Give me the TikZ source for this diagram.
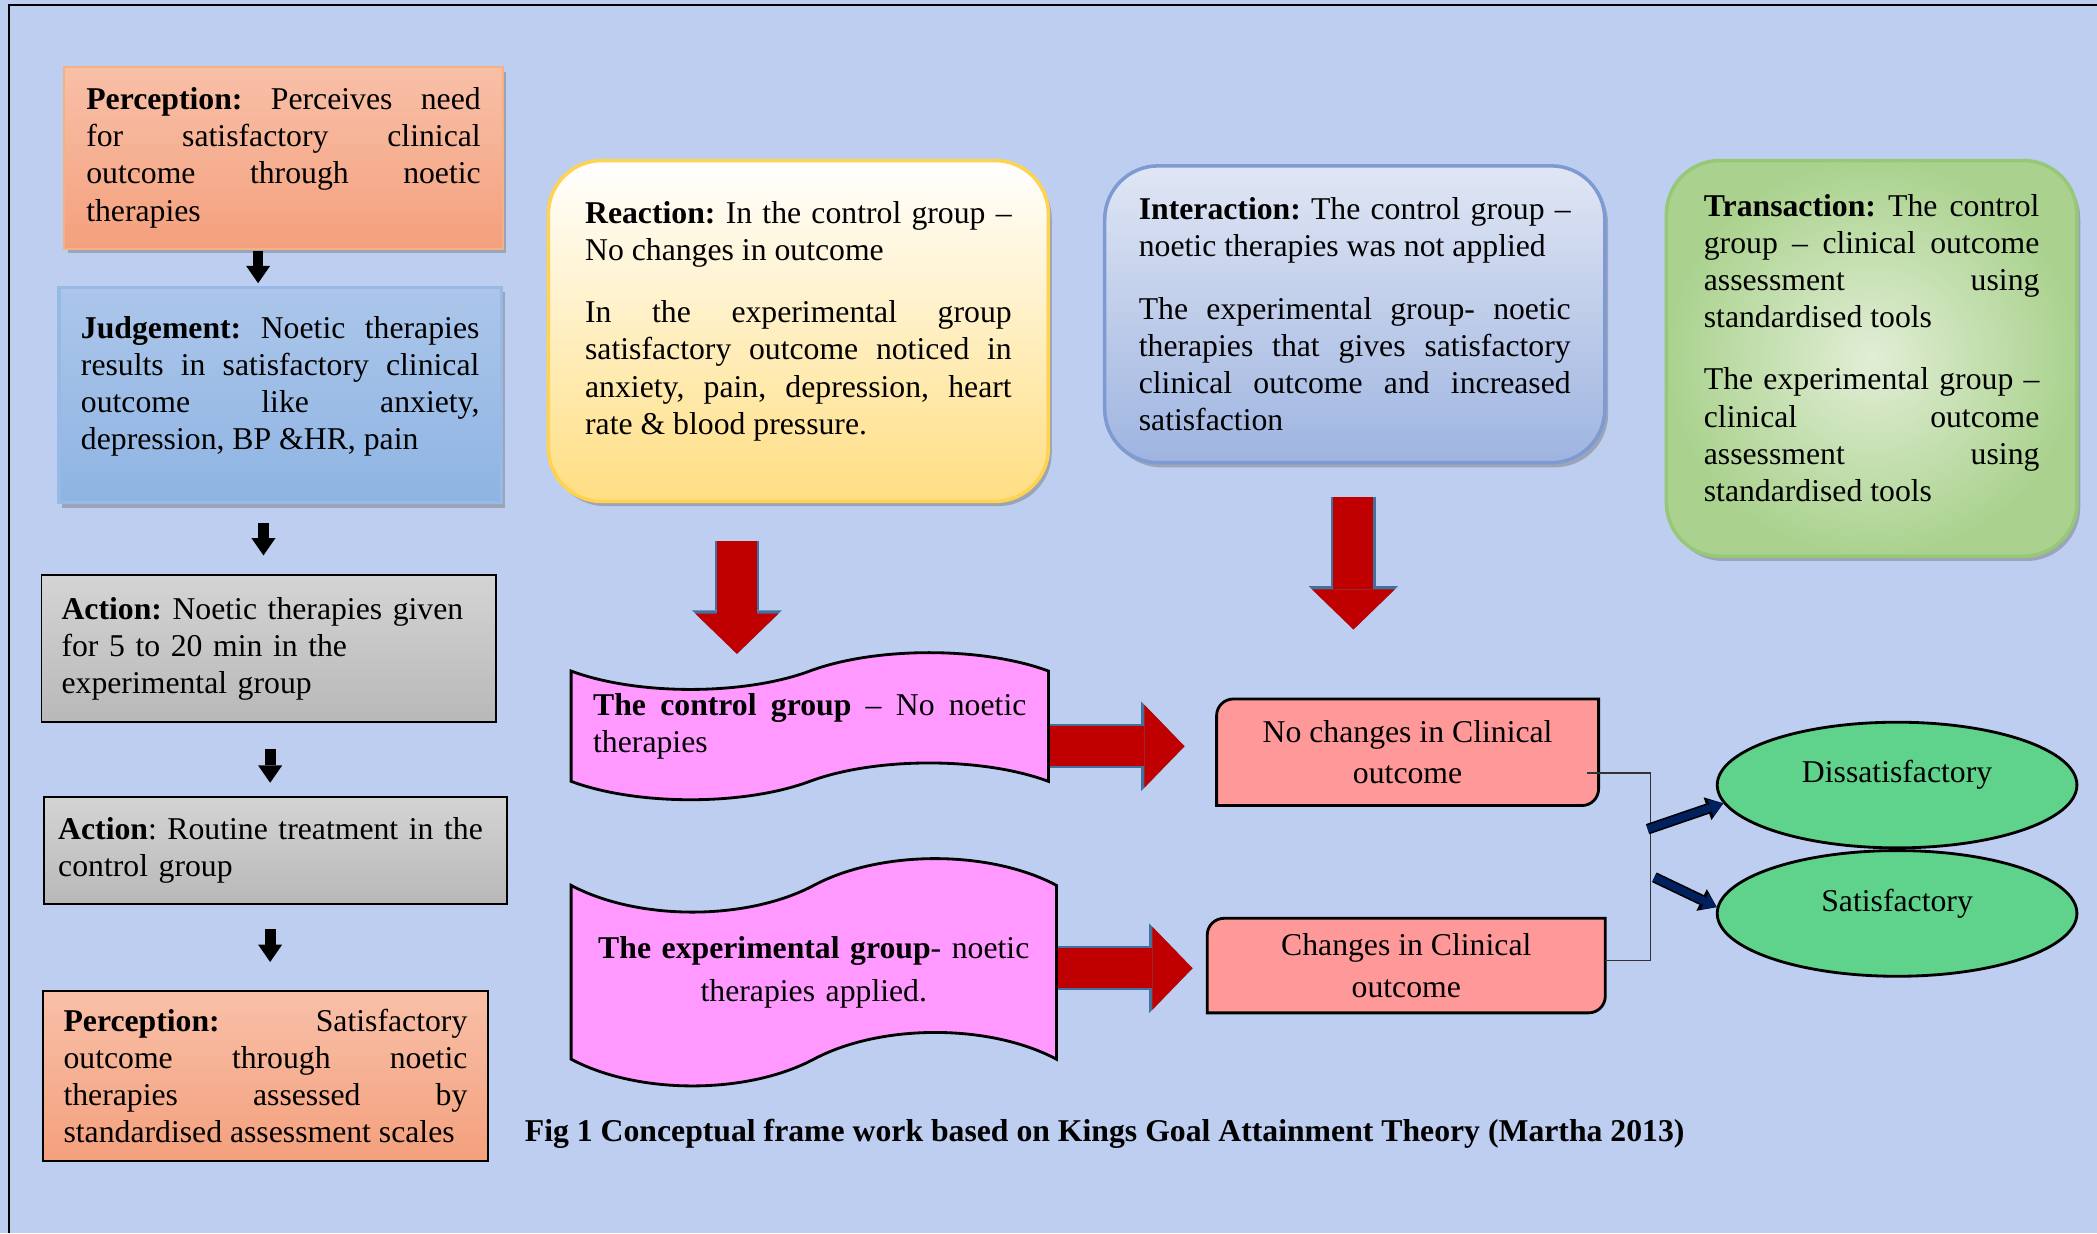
\documentclass[tikz,border=0pt]{standalone}
\usepackage{fontspec}
\setmainfont{Liberation Serif}
\usetikzlibrary{arrows.meta,shapes.geometric,shapes.symbols,shadows,backgrounds}

\tolerance=10000
\hyphenpenalty=10000
\frenchspacing

\definecolor{pagebg}{RGB}{190,206,240}
\definecolor{percL}{RGB}{248,192,168}
\definecolor{percD}{RGB}{244,160,125}
\definecolor{percRim}{RGB}{244,177,131}
\definecolor{judgeL}{RGB}{172,198,234}
\definecolor{judgeD}{RGB}{142,180,227}
\definecolor{judgeRim}{RGB}{150,185,230}
\definecolor{actL}{RGB}{212,212,212}
\definecolor{actD}{RGB}{184,184,184}
\definecolor{reactD}{RGB}{255,222,130}
\definecolor{reactRim}{RGB}{255,210,80}
\definecolor{interL}{RGB}{224,230,244}
\definecolor{interD}{RGB}{158,180,224}
\definecolor{interRim}{RGB}{125,155,210}
\definecolor{transL}{RGB}{226,238,214}
\definecolor{transD}{RGB}{170,210,142}
\definecolor{transRim}{RGB}{150,200,120}
\definecolor{tapepink}{RGB}{255,153,255}
\definecolor{salmon}{RGB}{255,153,153}
\definecolor{arrowred}{RGB}{192,0,0}
\definecolor{arrowrim}{RGB}{65,113,156}
\definecolor{ovalgreen}{RGB}{95,210,140}
\definecolor{navyc}{RGB}{0,32,96}

\newcommand{\lift}[1]{\rule[-#1]{0pt}{#1}}

\tikzset{
  every node/.style={font=\fontsize{13.5}{15.8}\selectfont},
  boxshadow/.style={drop shadow={shadow xshift=0.05cm, shadow yshift=-0.07cm, opacity=0.45, fill=black!55}},
  plainbox/.style={rectangle, inner sep=0pt, align=justify},
  percbox/.style={plainbox, top color=percL, bottom color=percD, line width=0.8pt},
  judgebox/.style={plainbox, top color=judgeL, bottom color=judgeD, draw=judgeRim, line width=1.4pt},
  actbox/.style={plainbox, top color=actL, bottom color=actD, draw=black, line width=0.8pt},
  roundbox/.style={plainbox, rounded corners=0.8cm, line width=1.5pt},
  reactbox/.style={roundbox, top color=white, bottom color=reactD, draw=reactRim},
  interbox/.style={roundbox, top color=interL, bottom color=interD, draw=interRim},
  transbox/.style={roundbox, inner color=transL, outer color=transD, draw=transRim},
  tapebox/.style={tape, draw=black, fill=tapepink, line width=1.2pt, inner sep=0pt, align=justify},
  outbox/.style={draw=black, fill=salmon, line width=1.2pt},
  ovalbox/.style={ellipse, draw=black, fill=ovalgreen, line width=1.2pt, inner sep=0pt,
    minimum width=5.38cm, minimum height=1.88cm, text depth=0.4cm},
  blkarrow/.style={draw=black, line width=0.16cm, -{Triangle[width=0.36cm,length=0.26cm,line width=0pt]}},
  redarrow/.style={draw=arrowred, line width=0.6cm, -{Triangle[width=1.24cm,length=0.6cm,line width=0pt]},
    preaction={draw=arrowrim, line width=0.66cm, -{Triangle[width=1.34cm,length=0.65cm,line width=0pt]}}},
  navyarrow/.style={draw=navyc, line width=0.11cm, -{Triangle[width=0.26cm,length=0.2cm,line width=0pt]},
    preaction={draw=black, line width=0.16cm, -{Triangle[width=0.36cm,length=0.25cm,line width=0pt]}}},
  bracketline/.style={draw=black!80, line width=0.6pt}
}

\begin{document}
\begin{tikzpicture}[x=0.02cm, y=-0.02cm]
\useasboundingbox (0,0) rectangle (1568,922);
\begin{pgfonlayer}{background}
\fill[pagebg] (0,0) rectangle (1568,922);
\end{pgfonlayer}
\draw[line width=0.9pt] (7,922) -- (7,4) -- (1568,4);

% left column
\node[percbox, boxshadow, draw=percRim, minimum width=6.56cm, minimum height=2.72cm, text width=5.9cm] (percept1) at (212,118)
  {\textbf{Perception:} Perceives need\linebreak for satisfactory clinical\linebreak outcome through noetic\linebreak therapies};
\node[judgebox, boxshadow, minimum width=6.62cm, minimum height=3.22cm, text width=5.96cm] (judge) at (209.5,295.5)
  {\textbf{Judgement:} Noetic therapies\linebreak results in satisfactory clinical\linebreak outcome like anxiety,\linebreak depression, BP \&HR, pain\lift{0.36cm}};
\node[actbox, minimum width=6.8cm, minimum height=2.2cm, text width=6.2cm, align=left] (action1) at (201,485)
  {\textbf{Action:} Noetic therapies given\\ for 5 to 20 min in the\\ experimental group};
\node[actbox, minimum width=6.92cm, minimum height=1.6cm, text width=6.5cm, align=left] (action2) at (206,636)
  {\textbf{Action}: Routine treatment in the\\ control group};
\node[percbox, draw=black, minimum width=6.66cm, minimum height=2.54cm, text width=6.04cm] (percept2) at (198.5,804.5)
  {\textbf{Perception:} Satisfactory\linebreak outcome through noetic\linebreak therapies assessed by\linebreak standardised assessment scales};

\draw[blkarrow, shorten <=0.02cm, shorten >=0.04cm] (percept1.south -| 193,0) -- (judge.north -| 193,0);
\draw[blkarrow, shorten <=0.28cm, shorten >=0.28cm] (judge.south -| 197,0) -- (action1.north -| 197,0);
\draw[blkarrow, shorten <=0.38cm, shorten >=0.2cm] (action1.south -| 202,0) -- (action2.north -| 202,0);
\draw[blkarrow, shorten <=0.36cm, shorten >=0.42cm] (action2.south -| 202,0) -- (percept2.north -| 202,0);

% top row
\node[reactbox, boxshadow, minimum width=7.48cm, minimum height=5.1cm, text width=6.38cm] (reaction) at (597,247.5)
  {\textbf{Reaction:} In the control group –\linebreak No changes in outcome\\[0.38cm]
   In the experimental group\linebreak satisfactory outcome noticed in\linebreak anxiety, pain, depression, heart\linebreak rate \& blood pressure.\lift{0.4cm}};
\node[interbox, boxshadow, minimum width=7.48cm, minimum height=4.44cm, text width=6.46cm] (interact) at (1013,235)
  {\textbf{Interaction:} The control group –\linebreak noetic therapies was not applied\\[0.38cm]
   The experimental group- noetic\linebreak therapies that gives satisfactory\linebreak clinical outcome and increased\linebreak satisfaction};
\node[transbox, boxshadow, minimum width=6.14cm, minimum height=5.92cm, text width=5.02cm] (transact) at (1399.5,268)
  {\textbf{Transaction:} The control\linebreak group – clinical outcome\linebreak assessment using\linebreak standardised tools\\[0.38cm]
   The experimental group –\linebreak clinical outcome\linebreak assessment using\linebreak standardised tools\lift{0.32cm}};

% groups
\node[tapebox, minimum width=7.14cm, minimum height=2.2cm, tape bend height=0.55cm, text width=6.48cm] (ctrl) at (605.5,543)
  {\textbf{The control group} – No noetic\linebreak therapies};
\node[tapebox, minimum width=7.26cm, minimum height=3.4cm, tape bend height=0.8cm, text width=6.6cm, align=center] (expt) at (608.5,727)
  {\textbf{The experimental group}- noetic\\[0.08cm] therapies applied.};

% outcomes
\node[minimum width=5.7cm, minimum height=1.58cm, align=center] (nc) at (1052.5,562.5) {No changes in Clinical\\[0.06cm] outcome};
\node[minimum width=5.94cm, minimum height=1.4cm, align=center] (ch) at (1051.5,722) {Changes in Clinical\\[0.06cm] outcome};
\begin{pgfonlayer}{background}
\foreach \b in {nc,ch}
  \filldraw[outbox] (\b.south west) -- ([yshift=-0.25cm]\b.north west) arc[start angle=180,end angle=90,radius=0.25cm]
    -- (\b.north east) -- ([yshift=0.25cm]\b.south east) arc[start angle=0,end angle=-90,radius=0.25cm] -- cycle;
\end{pgfonlayer}

\node[ovalbox] (diss) at (1418.5,587) {Dissatisfactory};
\node[ovalbox] (sat) at (1418.5,683) {Satisfactory};

\draw[redarrow, shorten <=0.56cm, shorten >=0.24cm] (reaction.south -| 551,0) -- (ctrl.north -| 551,0);
\draw[redarrow, shorten <=0.48cm, shorten >=1.04cm] (interact.south -| 1012,0) -- (nc.north -| 1012,0);
\draw[redarrow, shorten >=0.48cm] (ctrl.east |- 0,558) -- (nc.west |- 0,558);
\draw[redarrow, shorten >=0.22cm] (expt.east |- 0,724) -- (ch.west |- 0,724);

\coordinate (ncout) at (1187,578);
\coordinate (merge) at (1234,718);
\draw[bracketline] (ncout) -| (merge) -- (merge -| ch.east);
\coordinate (fork1) at (1232,620);
\coordinate (fork2) at (1237,656);
\draw[navyarrow] (fork1) -- (diss.186);
\draw[navyarrow] (fork2) -- (sat.178);

\node[font=\fontsize{13.5}{15.8}\selectfont\bfseries] (caption) at (826,848)
  {Fig 1 Conceptual frame work based on Kings Goal Attainment Theory (Martha 2013)};
\end{tikzpicture}
\end{document}
